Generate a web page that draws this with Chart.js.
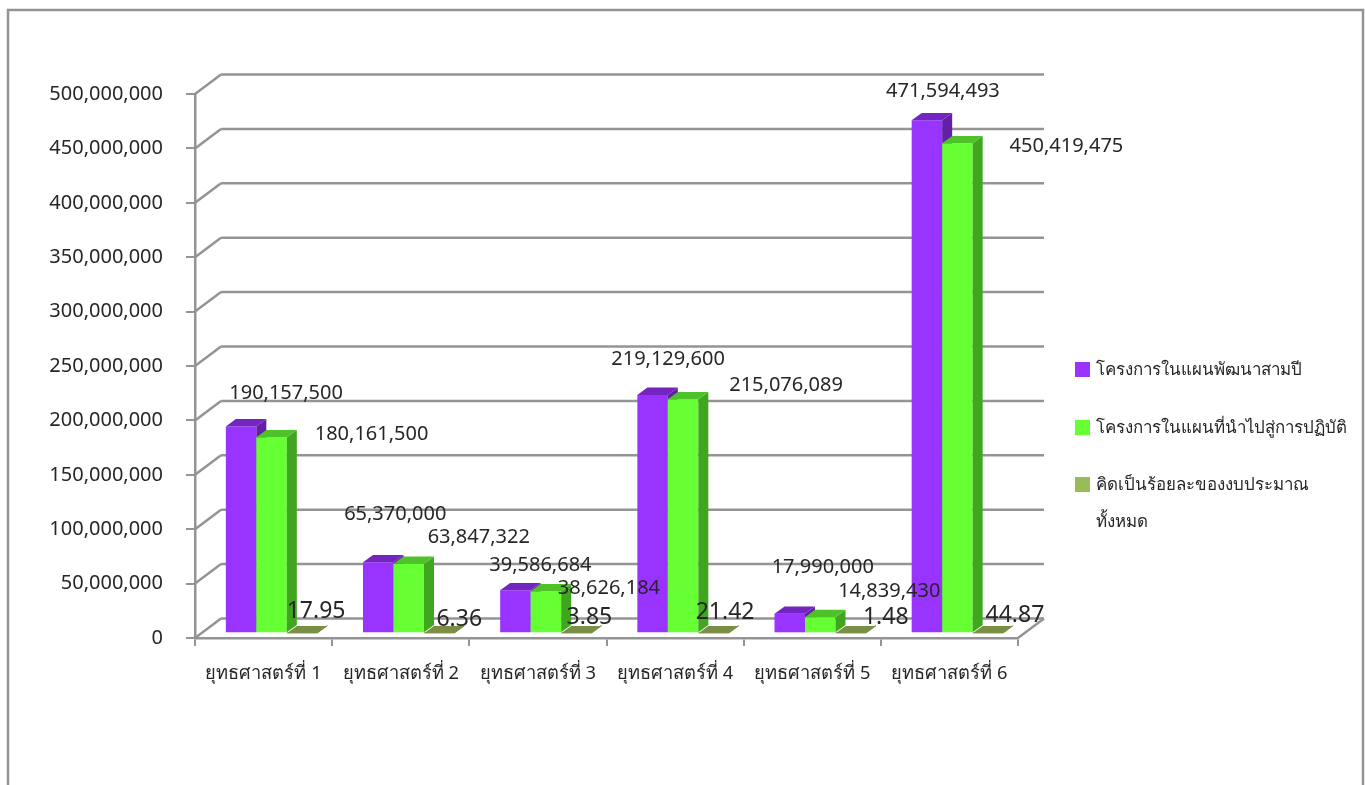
<!DOCTYPE html>
<html>
<head>
<meta charset="utf-8">
<style>
  html, body { margin: 0; padding: 0; background: #fff; overflow: hidden; }
  #wrap { position: relative; width: 1365px; height: 785px; }
</style>
<script src="https://cdn.jsdelivr.net/npm/chart.js@4/dist/chart.umd.js"></script>
</head>
<body>
<div id="wrap"><canvas id="chart" width="1365" height="785"></canvas></div>
<script>
const categories = ['ยุทธศาสตร์ที่ 1', 'ยุทธศาสตร์ที่ 2', 'ยุทธศาสตร์ที่ 3', 'ยุทธศาสตร์ที่ 4', 'ยุทธศาสตร์ที่ 5', 'ยุทธศาสตร์ที่ 6'];
const planned = [190157500, 65370000, 39586684, 219129600, 17990000, 471594493];
const implemented = [180161500, 63847322, 38626184, 215076089, 14839430, 450419475];
const percentOfBudget = [17.95, 6.36, 3.85, 21.42, 1.48, 44.87];
const legendLabels = ['โครงการในแผนพัฒนาสามปี', 'โครงการในแผนที่นำไปสู่การปฏิบัติ', ['คิดเป็นร้อยละของงบประมาณ', 'ทั้งหมด']];

const FONT = '"Noto Sans", sans-serif';
const GRID = '#949494';
const TEXT = '#262626';
// wall depth, bar depth and how far the bars sit in from the front of the floor
const WALL = { x: 26, y: -19.5 };
const DEPTH = { x: 10, y: -7.3 };
const INSET = { x: 8, y: -4.7 };

// hand placed offsets of the value labels from their bar tops, the source chart has them scattered
const labelNudges = [
  [[45, -33], [17, -48], [25, -25], [15.5, -36], [33, -46], [16, -29]],
  [[100, -3], [70, -27], [63, -3], [103, -14], [69, -26], [109, 3]],
  [[14, -22], [20, -14], [13, -16], [11.5, -21], [35, -16], [27, -18]],
];
const shades = [
  { top: '#7424bf', side: '#6320a6' },
  { top: '#4fc229', side: '#40a620' },
  { top: '#7a8f45', side: '#6b7e3c' },
];

function poly(ctx, pts, color) {
  ctx.fillStyle = color;
  ctx.beginPath();
  pts.forEach((p, i) => (i ? ctx.lineTo(p[0], p[1]) : ctx.moveTo(p[0], p[1])));
  ctx.closePath();
  ctx.fill();
}

function line(ctx, x1, y1, x2, y2) {
  ctx.beginPath();
  ctx.moveTo(x1, y1);
  ctx.lineTo(x2, y2);
  ctx.stroke();
}

const frame3d = {
  id: 'frame3d',
  beforeDatasetsDraw(chart) {
    const { ctx, chartArea: a, scales } = chart;
    ctx.save();
    ctx.strokeStyle = GRID;
    ctx.lineWidth = 2.5;
    // chart outline, runs off the bottom of the picture
    ctx.strokeRect(8, 10, 1355, 800);
    scales.y.ticks.forEach((t) => {
      const y = scales.y.getPixelForValue(t.value);
      line(ctx, a.left, y, a.left + WALL.x, y + WALL.y);
      line(ctx, a.left + WALL.x, y + WALL.y, a.right + WALL.x, y + WALL.y);
    });
    line(ctx, a.right, a.bottom, a.right + WALL.x, a.bottom + WALL.y);
    ctx.restore();
  },
  // chart.js paints the last dataset first, the purple side has to go under the green bar
  beforeDatasetDraw() {
    return false;
  },
  afterDatasetsDraw(chart) {
    const ctx = chart.ctx;
    chart.data.datasets.forEach((ds, d) => {
      const meta = chart.getDatasetMeta(d);
      ctx.save();
      ctx.translate(INSET.x, INSET.y);
      meta.controller.draw();
      meta.data.forEach((bar) => {
        const l = bar.x - bar.width / 2;
        const r = bar.x + bar.width / 2;
        poly(ctx, [[r, bar.y], [r + DEPTH.x, bar.y + DEPTH.y], [r + DEPTH.x, bar.base + DEPTH.y], [r, bar.base]], shades[d].side);
        poly(ctx, [[l, bar.y], [l + DEPTH.x, bar.y + DEPTH.y], [r + DEPTH.x, bar.y + DEPTH.y], [r, bar.y]], shades[d].top);
      });
      ctx.restore();
    });
  },
  afterDraw(chart) {
    const ctx = chart.ctx;
    ctx.save();
    // value labels
    ctx.fillStyle = TEXT;
    ctx.textAlign = 'center';
    ctx.textBaseline = 'middle';
    chart.data.datasets.forEach((ds, d) => {
      ctx.font = (d === 2 ? 23 : 20) + 'px ' + FONT;
      chart.getDatasetMeta(d).data.forEach((bar, i) => {
        const text = d === 2 ? ds.data[i].toFixed(2) : ds.data[i].toLocaleString('en-US');
        ctx.fillText(text, bar.x + INSET.x + labelNudges[d][i][0], bar.y + INSET.y + labelNudges[d][i][1]);
      });
    });
    // legend
    const legendTop = [362, 420, 477];
    ctx.textAlign = 'left';
    ctx.font = '16.9px ' + FONT;
    chart.data.datasets.forEach((ds, d) => {
      ctx.fillStyle = ds.backgroundColor;
      ctx.fillRect(1075, legendTop[d], 15, 15);
      ctx.fillStyle = TEXT;
      [].concat(ds.label).forEach((row, n) => ctx.fillText(row, 1096, legendTop[d] + 8.5 + n * 37));
    });
    ctx.restore();
  },
};

new Chart(document.getElementById('chart'), {
  type: 'bar',
  data: {
    labels: categories,
    datasets: [
      { label: legendLabels[0], data: planned, backgroundColor: '#9933ff' },
      { label: legendLabels[1], data: implemented, backgroundColor: '#66ff33' },
      { label: legendLabels[2], data: percentOfBudget, backgroundColor: '#9bbb59' },
    ],
  },
  options: {
    responsive: false,
    animation: false,
    layout: { padding: { left: 0, right: 347, top: 94, bottom: 0 } },
    datasets: { bar: { categoryPercentage: 0.667, barPercentage: 1 } },
    plugins: { legend: { display: false }, tooltip: { enabled: false } },
    scales: {
      x: {
        afterFit: (s) => { s.height = 147; },
        border: { color: GRID, width: 2.5 },
        grid: { color: GRID, lineWidth: 2, drawOnChartArea: false, tickLength: 8 },
        ticks: { color: TEXT, font: { family: FONT, size: 18.3 }, padding: 17, maxRotation: 0 },
      },
      y: {
        min: 0,
        max: 500000000,
        afterFit: (s) => { s.width = 195; },
        border: { color: GRID, width: 2.5 },
        grid: { color: GRID, lineWidth: 2, drawOnChartArea: false, tickLength: 9 },
        ticks: {
          stepSize: 50000000,
          color: TEXT,
          font: { family: FONT, size: 20 },
          padding: 23,
          callback: (v) => v.toLocaleString('en-US'),
        },
      },
    },
  },
  plugins: [frame3d],
});
</script>
</body>
</html>
